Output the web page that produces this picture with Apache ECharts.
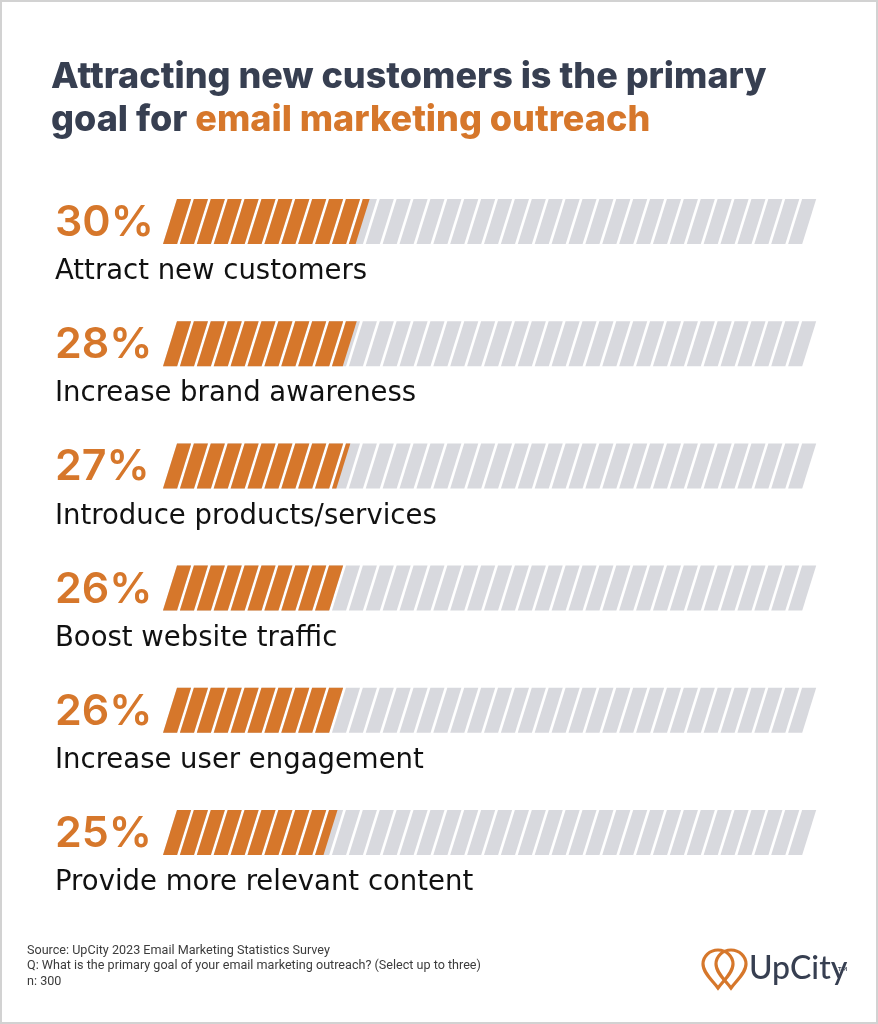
<!DOCTYPE html>
<html><head><meta charset="utf-8">
<script src="https://cdn.jsdelivr.net/npm/echarts@6/dist/echarts.min.js"></script>
<style>html,body{margin:0;padding:0;background:#fff}#c{width:878px;height:1024px}</style>
</head><body><div id="c"></div>
<script>
const categories = ['Attract new customers', 'Increase brand awareness', 'Introduce products/services', 'Boost website traffic', 'Increase user engagement', 'Provide more relevant content'];
const values = [30, 28, 27, 26, 26, 25];
const percentLabels = ['30%', '28%', '27%', '26%', '26%', '25%'];
const footerLines = ['Source: UpCity 2023 Email Marketing Statistics Survey', 'Q: What is the primary goal of your email marketing outreach? (Select up to three)', 'n: 300'];

const ORANGE = '#D6772B', NAVY = '#373F51', GRAY = '#D8D9DE';
const STRIPES = 38, BAR_H = 45, SLANT = 14, GAP = 2.8;

const chart = echarts.init(document.getElementById('c'));

function para(x0, x1, top, bottom) {
  return [[x0, bottom], [x1, bottom], [x1 + SLANT, top], [x0 + SLANT, top]];
}

function renderItem(params, api) {
  const i = api.value(1), v = api.value(0);
  const c = api.coord([0, i]);
  const cy = c[1], top = cy - BAR_H / 2, bottom = cy + BAR_H / 2;
  const X = u => api.coord([u, i])[0];
  const w = 100 / STRIPES;
  const children = [];
  for (let k = 0; k < STRIPES; k++) {
    const xs = X(k * w), xe = X((k + 1) * w) - GAP;
    children.push({ type: 'polygon', shape: { points: para(xs, xe, top, bottom) }, style: { fill: GRAY } });
  }
  for (let k = 0; k < STRIPES; k++) {
    const s = k * w;
    if (s >= v) break;
    const xs = X(s), xe = Math.min(X((k + 1) * w) - GAP, X(v));
    if (xe <= xs) continue;
    children.push({ type: 'polygon', shape: { points: para(xs, xe, top, bottom) }, style: { fill: ORANGE } });
  }
  children.push({ type: 'text', x: c[0] - 108, y: cy + 1.5, style: { text: percentLabels[i], fill: ORANGE, font: '600 43px Inter', verticalAlign: 'middle', align: 'left' } });
  children.push({ type: 'text', x: c[0] - 108, y: cy + 50.5, style: { text: categories[i], fill: '#111', font: '27.5px "DejaVu Sans"', verticalAlign: 'middle', align: 'left' } });
  return { type: 'group', children };
}

const pin = 'M0,38 C-5,31 -15,23 -15,14 A15,14 0 1,1 15,14 C15,23 5,31 0,38 Z';

function renderLogo() {
  return {
    type: 'group',
    children: [
      { type: 'path', x: 718, y: 950, shape: { pathData: pin }, style: { fill: 'none', stroke: ORANGE, lineWidth: 3.2 } },
      { type: 'path', x: 731, y: 950, shape: { pathData: pin }, style: { fill: 'none', stroke: ORANGE, lineWidth: 3.2 } },
      { type: 'text', x: 749, y: 985, style: { text: 'UpCity', font: '500 32px Lato', fill: NAVY, verticalAlign: 'bottom' } },
      { type: 'text', x: 838, y: 966, style: { text: 'TM', font: '700 6px Lato', fill: NAVY } }
    ]
  };
}

chart.setOption({
  backgroundColor: '#fff',
  animation: false,
  title: {
    left: 46, top: 51,
    text: '{n|Attracting new customers is the primary}\n{n|goal for }{o|email marketing outreach}',
    textStyle: {
      rich: {
        n: { fontFamily: 'Inter', fontWeight: 800, fontSize: 36, color: NAVY, lineHeight: 43 },
        o: { fontFamily: 'Inter', fontWeight: 800, fontSize: 36, color: ORANGE, lineHeight: 43 }
      }
    }
  },
  grid: { left: 163, right: 73, top: 160.4, height: 733.2, containLabel: false },
  xAxis: { type: 'value', min: 0, max: 100, show: false },
  yAxis: { type: 'category', data: categories, inverse: true, show: false },
  series: [{
    type: 'custom',
    renderItem,
    encode: { x: 0, y: 1 },
    data: values.map((v, i) => [v, i]),
    clip: false
  }, {
    type: 'custom',
    coordinateSystem: 'none',
    renderItem: renderLogo,
    data: [[0]],
    silent: true
  }],
  graphic: [
    { type: 'rect', shape: { x: 1, y: 1, width: 876, height: 1022 }, style: { fill: 'none', stroke: '#D2D2D2', lineWidth: 2 }, silent: true },
    { type: 'text', x: 27, y: 943, style: { text: footerLines.join('\n'), font: '12.6px Roboto', lineHeight: 15.5, fill: '#3c3c3c' } }
  ]
});
</script></body></html>
